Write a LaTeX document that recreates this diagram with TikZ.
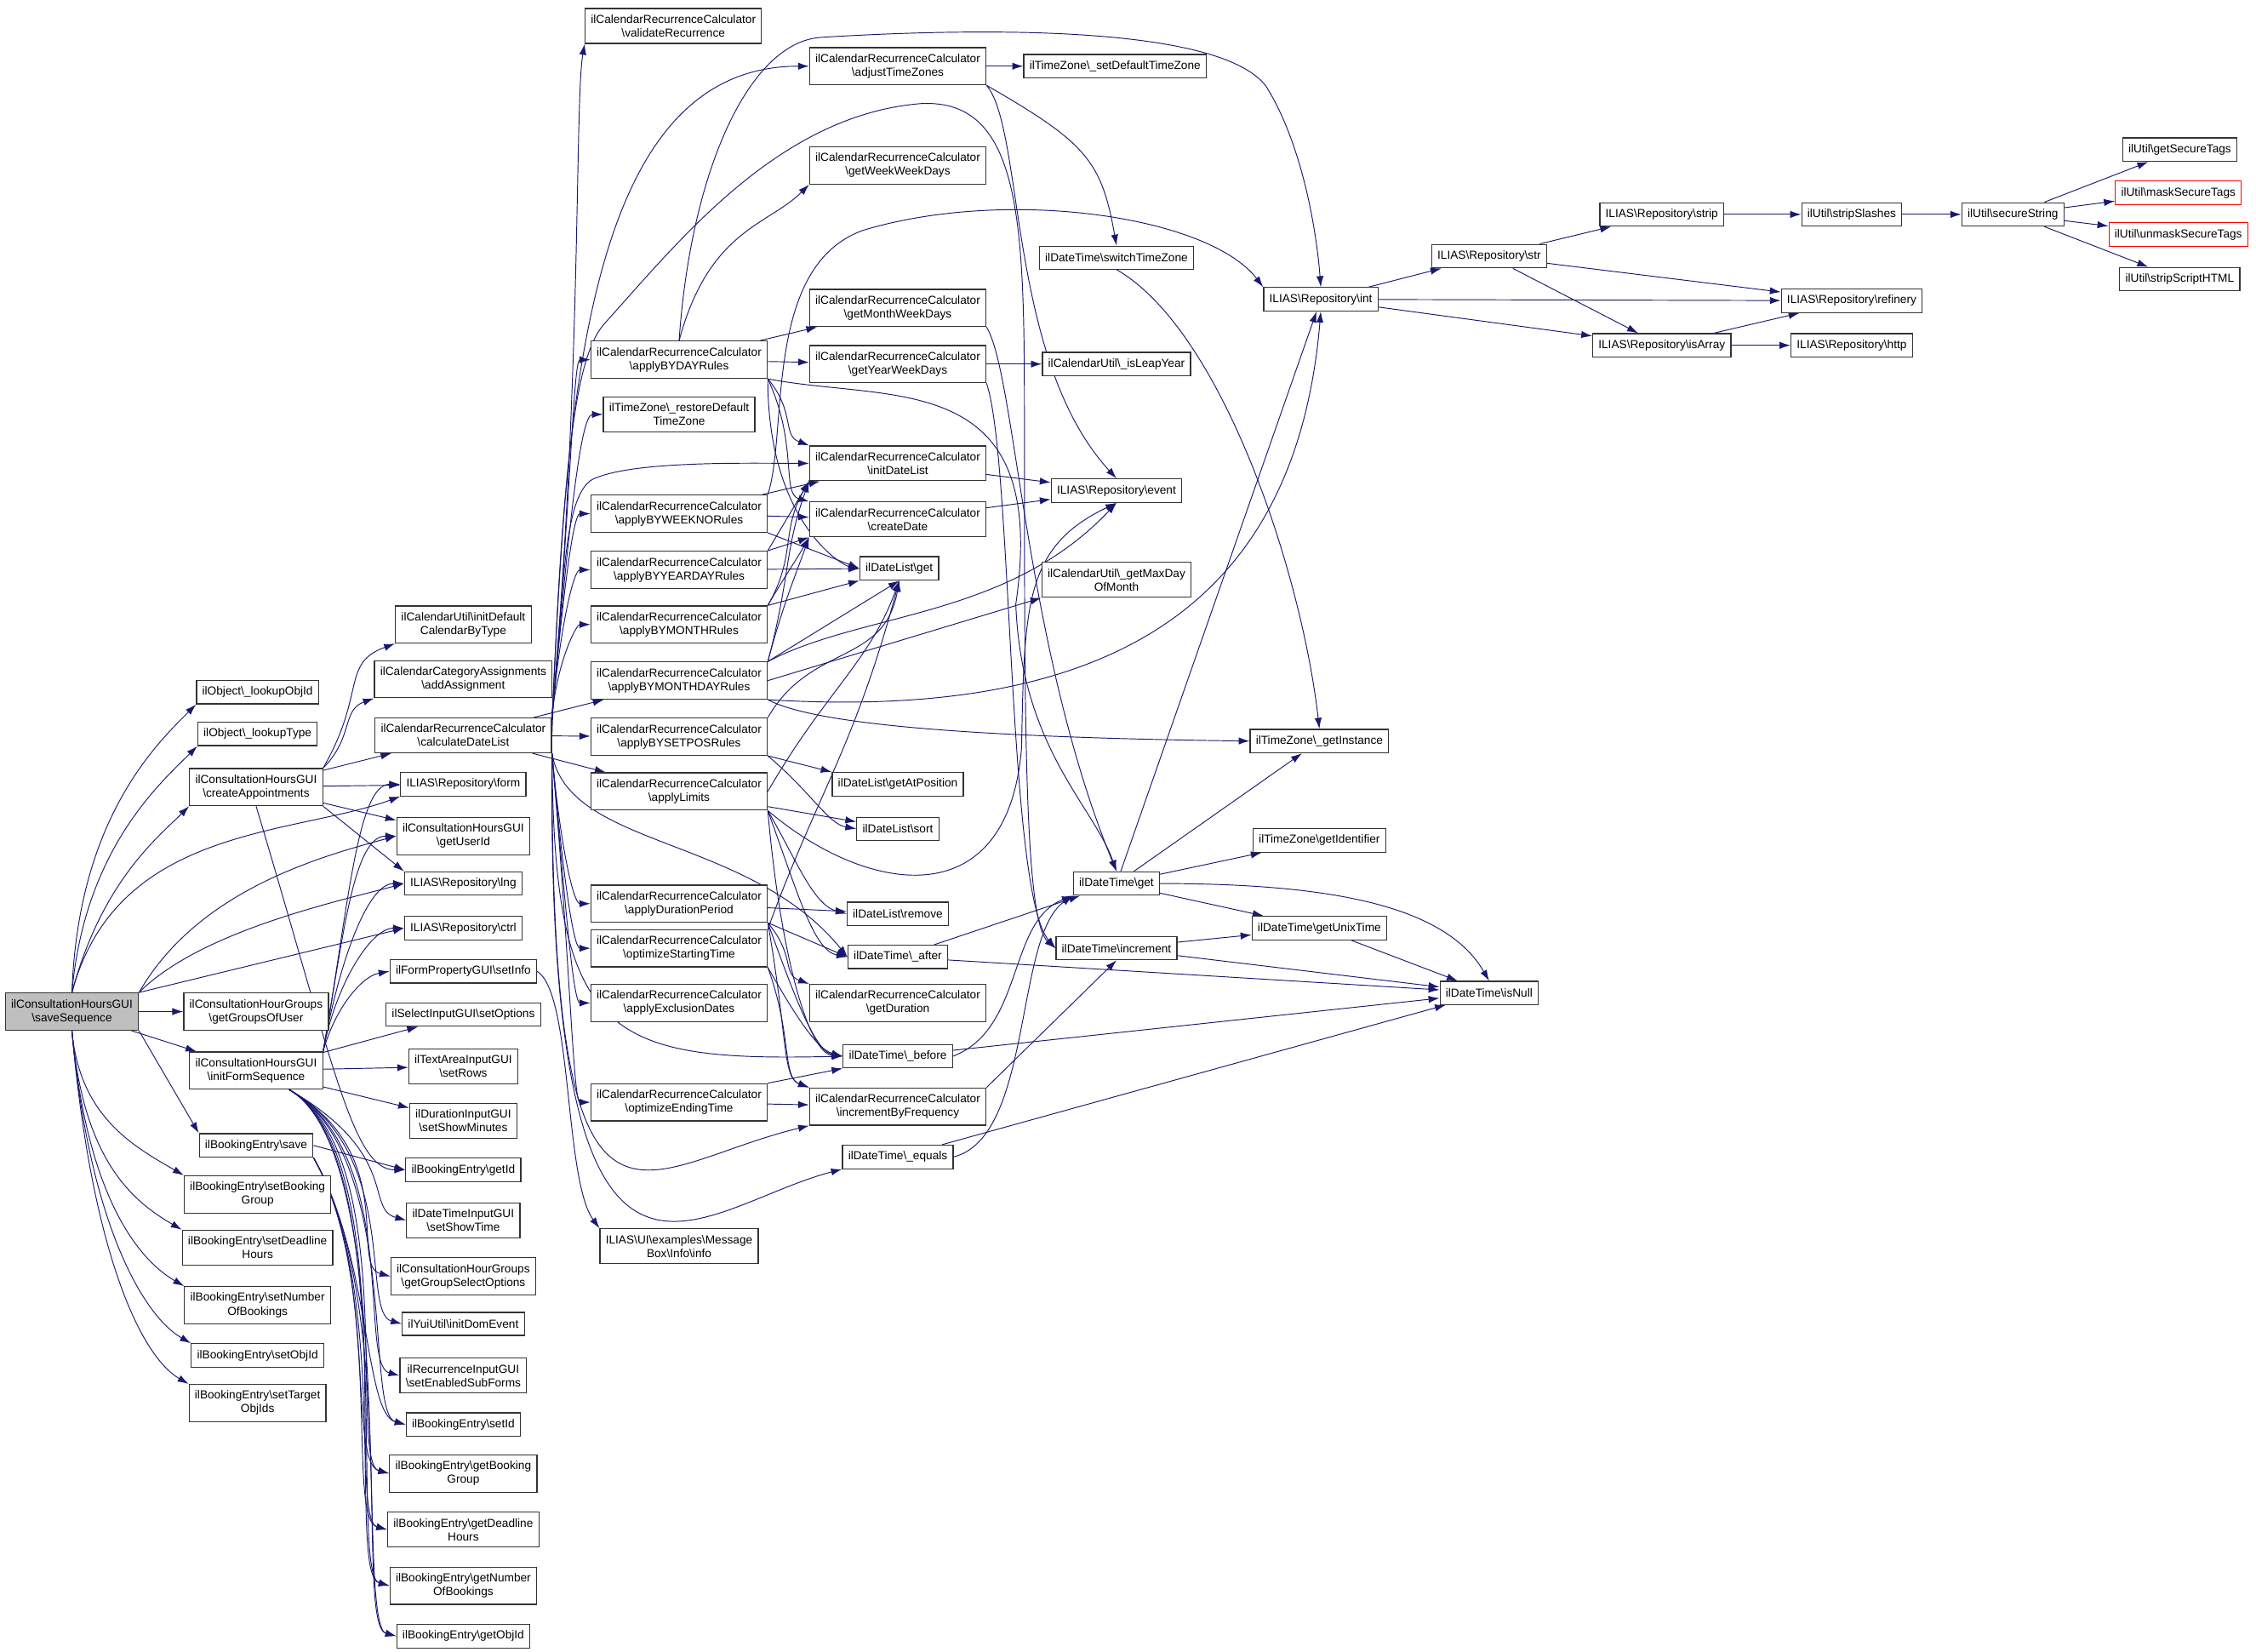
\documentclass[tikz,border=0pt]{standalone}
\usepackage{fontspec}
\setmainfont{Liberation Sans}
\usepackage{tikz}
\usetikzlibrary{positioning}
\usetikzlibrary{calc}
\usetikzlibrary{arrows.meta}
\newcommand{\bs}{\textbackslash}
\pgfdeclarelayer{edges}
\pgfsetlayers{edges,main}

\begin{document}
\begin{tikzpicture}[x=0.5mm,y=0.5mm,
  fn/.style={draw=sqsqsq, line width=1pt, fill=white, align=center, inner xsep=2mm, inner ysep=2.2mm, minimum height=8mm, font=\fontsize{11.5}{13.5}\selectfont},
  root/.style={fn, fill=bfbfbf},
  ext/.style={fn, draw=ffqqqq},
  call/.style={draw=qqqqtt, line width=0.8pt, -{Latex[length=3.8mm,width=2.5mm]}}]
\definecolor{qqqqtt}{rgb}{0.1,0.1,0.44}
\definecolor{sqsqsq}{rgb}{0.2,0.2,0.2}
\definecolor{bfbfbf}{rgb}{0.75,0.75,0.75}
\definecolor{ffqqqq}{rgb}{1,0,0}

\useasboundingbox (0,0) rectangle (1568,-1148);

\node[root] (saveSeq) at (50,-703) {ilConsultationHoursGUI\\\bs saveSequence};

\node[fn] (lookupObjId) at (179,-481) {ilObject\bs\_lookupObjId};
\node[fn] (lookupType) at (179,-510) {ilObject\bs\_lookupType};
\node[fn] (createAppt) at (178,-547) {ilConsultationHoursGUI\\\bs createAppointments};
\node[fn] (groupsOfUser) at (178,-703) {ilConsultationHourGroups\\\bs getGroupsOfUser};
\node[fn] (initForm) at (178,-744) {ilConsultationHoursGUI\\\bs initFormSequence};
\node[fn] (beSave) at (178,-796) {ilBookingEntry\bs save};
\node[fn] (setBookingGroup) at (179,-830) {ilBookingEntry\bs setBooking\\Group};
\node[fn] (setDeadline) at (179,-867) {ilBookingEntry\bs setDeadline\\Hours};
\node[fn] (setNumber) at (179,-907) {ilBookingEntry\bs setNumber\\OfBookings};
\node[fn] (setObjId) at (179,-942) {ilBookingEntry\bs setObjId};
\node[fn] (setTarget) at (179,-975) {ilBookingEntry\bs setTarget\\ObjIds};

\node[fn] (initDefCal) at (322,-434) {ilCalendarUtil\bs initDefault\\CalendarByType};
\node[fn] (addAssign) at (322,-472) {ilCalendarCategoryAssignments\\\bs addAssignment};
\node[fn] (calcDateList) at (322,-511) {ilCalendarRecurrenceCalculator\\\bs calculateDateList};
\node[fn] (repForm) at (322,-545) {ILIAS\bs Repository\bs form};
\node[fn] (getUserId) at (322,-581) {ilConsultationHoursGUI\\\bs getUserId};
\node[fn] (repLng) at (322,-614) {ILIAS\bs Repository\bs lng};
\node[fn] (repCtrl) at (322,-645) {ILIAS\bs Repository\bs ctrl};
\node[fn] (setInfo) at (322,-675) {ilFormPropertyGUI\bs setInfo};
\node[fn] (setOptions) at (322,-705) {ilSelectInputGUI\bs setOptions};
\node[fn] (setRows) at (322,-741) {ilTextAreaInputGUI\\\bs setRows};
\node[fn] (setShowMin) at (322,-779) {ilDurationInputGUI\\\bs setShowMinutes};
\node[fn] (getId) at (322,-813) {ilBookingEntry\bs getId};
\node[fn] (setShowTime) at (322,-848) {ilDateTimeInputGUI\\\bs setShowTime};
\node[fn] (groupSelOpt) at (322,-887) {ilConsultationHourGroups\\\bs getGroupSelectOptions};
\node[fn] (initDomEvent) at (322,-920) {ilYuiUtil\bs initDomEvent};
\node[fn] (setEnabledSub) at (322,-956) {ilRecurrenceInputGUI\\\bs setEnabledSubForms};
\node[fn] (setId) at (322,-990) {ilBookingEntry\bs setId};
\node[fn] (getBookingGroup) at (322,-1024) {ilBookingEntry\bs getBooking\\Group};
\node[fn] (getDeadline) at (322,-1063) {ilBookingEntry\bs getDeadline\\Hours};
\node[fn] (getNumber) at (322,-1102) {ilBookingEntry\bs getNumber\\OfBookings};
\node[fn] (getObjId) at (322,-1137) {ilBookingEntry\bs getObjId};

\node[fn] (validateRec) at (468,-18) {ilCalendarRecurrenceCalculator\\\bs validateRecurrence};
\node[fn] (byDay) at (472,-250) {ilCalendarRecurrenceCalculator\\\bs applyBYDAYRules};
\node[fn] (restoreTZ) at (472,-288) {ilTimeZone\bs\_restoreDefault\\TimeZone};
\node[fn] (byWeekNo) at (472,-357) {ilCalendarRecurrenceCalculator\\\bs applyBYWEEKNORules};
\node[fn] (byYearDay) at (472,-396) {ilCalendarRecurrenceCalculator\\\bs applyBYYEARDAYRules};
\node[fn] (byMonth) at (472,-434) {ilCalendarRecurrenceCalculator\\\bs applyBYMONTHRules};
\node[fn] (byMonthDay) at (472,-473) {ilCalendarRecurrenceCalculator\\\bs applyBYMONTHDAYRules};
\node[fn] (bySetPos) at (472,-512) {ilCalendarRecurrenceCalculator\\\bs applyBYSETPOSRules};
\node[fn] (applyLimits) at (472,-550) {ilCalendarRecurrenceCalculator\\\bs applyLimits};
\node[fn] (durationPeriod) at (472,-628) {ilCalendarRecurrenceCalculator\\\bs applyDurationPeriod};
\node[fn] (optStart) at (472,-659) {ilCalendarRecurrenceCalculator\\\bs optimizeStartingTime};
\node[fn] (exclusionDates) at (472,-697) {ilCalendarRecurrenceCalculator\\\bs applyExclusionDates};
\node[fn] (optEnd) at (472,-766) {ilCalendarRecurrenceCalculator\\\bs optimizeEndingTime};
\node[fn] (msgInfo) at (472,-866) {ILIAS\bs UI\bs examples\bs Message\\Box\bs Info\bs info};

\node[fn] (adjustTZ) at (624,-46) {ilCalendarRecurrenceCalculator\\\bs adjustTimeZones};
\node[fn] (weekWeekDays) at (624,-115) {ilCalendarRecurrenceCalculator\\\bs getWeekWeekDays};
\node[fn] (monthWeekDays) at (624,-214) {ilCalendarRecurrenceCalculator\\\bs getMonthWeekDays};
\node[fn] (yearWeekDays) at (624,-253) {ilCalendarRecurrenceCalculator\\\bs getYearWeekDays};
\node[fn] (initDateList) at (624,-322) {ilCalendarRecurrenceCalculator\\\bs initDateList};
\node[fn] (createDate) at (624,-361) {ilCalendarRecurrenceCalculator\\\bs createDate};
\node[fn] (dlGet) at (625,-395) {ilDateList\bs get};
\node[fn] (dlGetAtPos) at (624,-545) {ilDateList\bs getAtPosition};
\node[fn] (dlSort) at (624,-576) {ilDateList\bs sort};
\node[fn] (dlRemove) at (624,-635) {ilDateList\bs remove};
\node[fn] (dtAfter) at (624,-665) {ilDateTime\bs\_after};
\node[fn] (getDuration) at (624,-697) {ilCalendarRecurrenceCalculator\\\bs getDuration};
\node[fn] (dtBefore) at (624,-734) {ilDateTime\bs\_before};
\node[fn] (incByFreq) at (624,-769) {ilCalendarRecurrenceCalculator\\\bs incrementByFrequency};
\node[fn] (dtEquals) at (624,-804) {ilDateTime\bs\_equals};

\node[fn] (setDefTZ) at (775,-46) {ilTimeZone\bs\_setDefaultTimeZone};
\node[fn] (switchTZ) at (776,-179) {ilDateTime\bs switchTimeZone};
\node[fn] (isLeapYear) at (776,-253) {ilCalendarUtil\bs\_isLeapYear};
\node[fn] (repEvent) at (776,-341) {ILIAS\bs Repository\bs event};
\node[fn] (maxDay) at (776,-403) {ilCalendarUtil\bs\_getMaxDay\\OfMonth};
\node[fn] (dtGet) at (776,-614) {ilDateTime\bs get};
\node[fn] (dtIncrement) at (776,-659) {ilDateTime\bs increment};

\node[fn] (repInt) at (918,-208) {ILIAS\bs Repository\bs int};
\node[fn] (tzGetInstance) at (917,-515) {ilTimeZone\bs\_getInstance};
\node[fn] (tzGetIdentifier) at (917,-584) {ilTimeZone\bs getIdentifier};
\node[fn] (getUnixTime) at (917,-645) {ilDateTime\bs getUnixTime};
\node[fn] (repStr) at (1035,-178) {ILIAS\bs Repository\bs str};
\node[fn] (isNull) at (1035,-690) {ilDateTime\bs isNull};
\node[fn] (repStrip) at (1155,-149) {ILIAS\bs Repository\bs strip};
\node[fn] (repIsArray) at (1155,-240) {ILIAS\bs Repository\bs isArray};
\node[fn] (stripSlashes) at (1287,-149) {ilUtil\bs stripSlashes};
\node[fn] (repRefinery) at (1287,-209) {ILIAS\bs Repository\bs refinery};
\node[fn] (repHttp) at (1287,-240) {ILIAS\bs Repository\bs http};
\node[fn] (secureString) at (1399,-149) {ilUtil\bs secureString};
\node[fn] (getSecureTags) at (1515,-104) {ilUtil\bs getSecureTags};
\node[ext] (maskSecureTags) at (1514,-134) {ilUtil\bs maskSecureTags};
\node[ext] (unmaskSecureTags) at (1514,-163) {ilUtil\bs unmaskSecureTags};
\node[fn] (stripScriptHTML) at (1515,-194) {ilUtil\bs stripScriptHTML};

\begin{pgfonlayer}{edges}
\draw[call] (saveSeq.north) to[out=88,in=225,out distance=60mm,in distance=20mm] (lookupObjId.south west);
\draw[call] (saveSeq.north) to[out=85,in=225,out distance=50mm,in distance=18mm] (lookupType.south west);
\draw[call] (saveSeq.north) to[out=75,in=225,out distance=40mm,in distance=15mm] (createAppt.south west);
\draw[call] (saveSeq.north) to[out=75,in=200,out distance=60mm,in distance=40mm] (repForm.south west);
\draw[call] (saveSeq.north east) to[out=60,in=195,out distance=40mm,in distance=30mm] (getUserId.west);
\draw[call] (saveSeq.north east) to[out=45,in=195,out distance=30mm,in distance=25mm] (repLng.west);
\draw[call] (saveSeq.north east) -- (repCtrl.west);
\draw[call] (saveSeq) -- (groupsOfUser);
\draw[call] (saveSeq) -- (initForm);
\draw[call] (saveSeq.south east) -- (beSave.north west);
\draw[call] (saveSeq.south) to[out=-85,in=150,out distance=30mm,in distance=20mm] (setBookingGroup.north west);
\draw[call] (saveSeq.south) to[out=-85,in=150,out distance=45mm,in distance=20mm] (setDeadline.north west);
\draw[call] (saveSeq.south) to[out=-85,in=150,out distance=55mm,in distance=20mm] (setNumber.north west);
\draw[call] (saveSeq.south) to[out=-85,in=150,out distance=65mm,in distance=20mm] (setObjId.north west);
\draw[call] (saveSeq.south) to[out=-85,in=150,out distance=75mm,in distance=20mm] (setTarget.north west);

\draw[call] (createAppt.north east) to[out=60,in=200,out distance=30mm,in distance=20mm] (initDefCal.south west);
\draw[call] (createAppt.north east) to[out=45,in=200,out distance=15mm,in distance=12mm] (addAssign.south west);
\draw[call] (createAppt) -- (calcDateList);
\draw[call] (createAppt) -- (repForm);
\draw[call] (createAppt) -- (getUserId);
\draw[call] (createAppt.south east) -- (repLng.north west);
\draw[call] (createAppt.south) .. controls (232,-740) and (245,-813) .. (getId.west);

\draw[call] (initForm.north east) to[out=80,in=180,out distance=50mm,in distance=15mm] (repForm.west);
\draw[call] (initForm.north east) to[out=80,in=180,out distance=40mm,in distance=15mm] (getUserId.west);
\draw[call] (initForm.north east) to[out=80,in=180,out distance=30mm,in distance=13mm] (repLng.west);
\draw[call] (initForm.north east) to[out=80,in=180,out distance=22mm,in distance=12mm] (repCtrl.west);
\draw[call] (initForm.north east) to[out=75,in=190,out distance=15mm,in distance=10mm] (setInfo.west);
\draw[call] (initForm) -- (setOptions);
\draw[call] (initForm) -- (setRows);
\draw[call] (initForm) -- (setShowMin);
\draw[call] (initForm.-30) to[out=-30,in=165,out distance=45mm,in distance=15mm] (setShowTime.west);
\draw[call] (initForm.-30) to[out=-30,in=165,out distance=45mm,in distance=15mm] (groupSelOpt.west);
\draw[call] (initForm.-30) to[out=-30,in=165,out distance=45mm,in distance=15mm] (initDomEvent.west);
\draw[call] (initForm.-30) to[out=-30,in=165,out distance=45mm,in distance=15mm] (setEnabledSub.west);
\draw[call] (initForm.-30) to[out=-30,in=165,out distance=45mm,in distance=15mm] (setId.west);
\draw[call] (initForm.-30) to[out=-30,in=165,out distance=45mm,in distance=15mm] (getBookingGroup.west);
\draw[call] (initForm.-30) to[out=-30,in=165,out distance=45mm,in distance=15mm] (getDeadline.west);
\draw[call] (initForm.-30) to[out=-30,in=165,out distance=45mm,in distance=15mm] (getNumber.west);
\draw[call] (initForm.-30) to[out=-30,in=165,out distance=45mm,in distance=15mm] (getObjId.west);

\draw[call] (beSave.east) -- (getId.west);
\draw[call] (beSave.south east) to[out=-60,in=165,out distance=40mm,in distance=15mm] (setId.west);
\draw[call] (beSave.south east) to[out=-60,in=165,out distance=45mm,in distance=15mm] (getBookingGroup.west);
\draw[call] (beSave.south east) to[out=-60,in=165,out distance=50mm,in distance=15mm] (getDeadline.west);
\draw[call] (beSave.south east) to[out=-60,in=165,out distance=55mm,in distance=15mm] (getNumber.west);
\draw[call] (beSave.south east) to[out=-60,in=165,out distance=60mm,in distance=15mm] (getObjId.west);

\draw[call] (setInfo.east) .. controls (398,-690) and (392,-820) .. (msgInfo.north west);

\draw[call] (calcDateList.north east) to[out=85,in=-100,out distance=120mm,in distance=20mm] (validateRec.south west);
\draw[call] (calcDateList.east) to[out=88,in=180,out distance=125mm,in distance=75mm] (adjustTZ.west);
\draw[call] (calcDateList.north east) to[out=85,in=180,out distance=75mm,in distance=6mm] (byDay.west);
\draw[call] (calcDateList.north east) to[out=85,in=180,out distance=63mm,in distance=8mm] (restoreTZ.west);
\draw[call] (calcDateList.north east) .. controls (392,-420) and (390,-345) .. (412,-333) .. controls (440,-320) and (520,-322) .. (initDateList.west);
\draw[call] (calcDateList.north east) to[out=85,in=180,out distance=42mm,in distance=6mm] (byWeekNo.west);
\draw[call] (calcDateList.north east) to[out=85,in=180,out distance=30mm,in distance=6mm] (byYearDay.west);
\draw[call] (calcDateList.north east) to[out=85,in=180,out distance=19mm,in distance=5mm] (byMonth.west);
\draw[call] (calcDateList) -- (byMonthDay);
\draw[call] (calcDateList) -- (bySetPos);
\draw[call] (calcDateList) -- (applyLimits);
\draw[call] (calcDateList.south east) to[out=-85,in=180,out distance=31mm,in distance=6mm] (durationPeriod.west);
\draw[call] (calcDateList.south east) to[out=-85,in=180,out distance=40mm,in distance=6mm] (optStart.west);
\draw[call] (calcDateList.south east) to[out=-85,in=180,out distance=52mm,in distance=6mm] (exclusionDates.west);
\draw[call] (calcDateList.south east) to[out=-85,in=180,out distance=72mm,in distance=6mm] (optEnd.west);
\draw[call] (calcDateList.south east) .. controls (395,-590) and (520,-580) .. (dtAfter.west);
\draw[call] (calcDateList.south east) .. controls (385,-720) and (420,-738) .. (dtBefore.west);
\draw[call] (calcDateList.south east) .. controls (383,-900) and (440,-812) .. (incByFreq.south west);
\draw[call] (calcDateList.south east) .. controls (380,-960) and (480,-840) .. (dtEquals.south west);
\draw[call] (calcDateList.north east) .. controls (392,-330) and (398,-250) .. (420,-225) .. controls (470,-170) and (540,-80) .. (640,-72) .. controls (712,-68) and (712,-160) .. (712,-300) .. controls (712,-500) and (712,-640) .. (dtIncrement.west);

\draw[call] (byDay.north) to[out=75,in=225,out distance=40mm,in distance=20mm] (weekWeekDays.south west);
\draw[call] (byDay) -- (monthWeekDays);
\draw[call] (byDay) -- (yearWeekDays);
\draw[call] (byDay.south east) to[out=-50,in=160,out distance=15mm,in distance=10mm] (initDateList.north west);
\draw[call] (byDay.south east) to[out=-65,in=165,out distance=25mm,in distance=10mm] (createDate.north west);
\draw[call] (byDay.south east) to[out=-90,in=170,out distance=50mm,in distance=6mm] (dlGet.west);
\draw[call] (byDay.north) .. controls (480,-120) and (520,-30) .. (570,-26) .. controls (700,-18) and (850,-20) .. (880,-60) .. controls (905,-100) and (915,-160) .. (repInt.north);
\draw[call] (byDay.south east) .. controls (620,-280) and (730,-255) .. (706,-420) .. controls (710,-520) and (760,-560) .. (dtGet.north);

\draw[call] (byWeekNo) -- (initDateList);
\draw[call] (byWeekNo) -- (createDate);
\draw[call] (byWeekNo.south east) -- (dlGet.west);
\draw[call] (byWeekNo.north east) .. controls (548,-300) and (530,-185) .. (600,-160) .. controls (700,-130) and (840,-150) .. (repInt.north west);

\draw[call] (byYearDay.north east) -- (initDateList.south west);
\draw[call] (byYearDay.north east) -- (createDate.south west);
\draw[call] (byYearDay) -- (dlGet);

\draw[call] (byMonth.north east) to[out=60,in=240,out distance=20mm,in distance=20mm] (initDateList.south west);
\draw[call] (byMonth.north east) to[out=60,in=240,out distance=10mm,in distance=10mm] (createDate.south west);
\draw[call] (byMonth.north east) -- (dlGet.south west);

\draw[call] (byMonthDay.north east) to[out=75,in=250,out distance=30mm,in distance=25mm] (initDateList.south west);
\draw[call] (byMonthDay.north east) to[out=75,in=250,out distance=20mm,in distance=15mm] (createDate.south west);
\draw[call] (byMonthDay.north east) -- (dlGet.south);
\draw[call] (byMonthDay.north east) .. controls (600,-425) and (700,-430) .. (repEvent.south);
\draw[call] (byMonthDay.east) -- (maxDay.south west);
\draw[call] (byMonthDay.south east) .. controls (760,-500) and (900,-430) .. (repInt.south);
\draw[call] (byMonthDay.south east) .. controls (560,-500) and (640,-512) .. (tzGetInstance.west);

\draw[call] (bySetPos.north east) to[out=60,in=-100,out distance=30mm,in distance=30mm] (dlGet.south);
\draw[call] (bySetPos.south east) -- (dlGetAtPos.north west);
\draw[call] (bySetPos.south east) to[out=-40,in=170,out distance=20mm,in distance=10mm] (dlSort.west);

\draw[call] (applyLimits.east) to[out=60,in=-110,out distance=40mm,in distance=30mm] (dlGet.south);
\draw[call] (applyLimits) -- (dlSort);
\draw[call] (applyLimits.south east) to[out=-60,in=165,out distance=20mm,in distance=12mm] (dlRemove.west);
\draw[call] (applyLimits.south east) to[out=-70,in=170,out distance=30mm,in distance=12mm] (dtAfter.west);
\draw[call] (applyLimits.south east) to[out=-85,in=175,out distance=50mm,in distance=12mm] (dtBefore.west);
\draw[call] (applyLimits.south east) .. controls (600,-620) and (700,-640) .. (710,-520) .. controls (712,-420) and (712,-380) .. (repEvent.south);

\draw[call] (durationPeriod) -- (dlRemove);
\draw[call] (durationPeriod.south east) -- (dtAfter.west);
\draw[call] (durationPeriod.south east) to[out=-50,in=160,out distance=15mm,in distance=10mm] (getDuration.north west);
\draw[call] (durationPeriod.south east) to[out=-70,in=170,out distance=25mm,in distance=10mm] (dtBefore.west);
\draw[call] (durationPeriod.south east) to[out=-80,in=160,out distance=40mm,in distance=10mm] (incByFreq.north west);

\draw[call] (optStart.north east) to[out=70,in=-105,out distance=50mm,in distance=60mm] (dlGet.south);
\draw[call] (optStart.south east) to[out=-60,in=165,out distance=15mm,in distance=10mm] (dtBefore.west);
\draw[call] (optStart.south east) to[out=-70,in=160,out distance=25mm,in distance=10mm] (incByFreq.north west);

\draw[call] (optEnd.north east) -- (dtBefore.south west);
\draw[call] (optEnd) -- (incByFreq);

\draw[call] (adjustTZ) -- (setDefTZ);
\draw[call] (adjustTZ.south east) to[out=-30,in=100,out distance=40mm,in distance=30mm] (switchTZ.north);
\draw[call] (adjustTZ.south east) .. controls (712,-90) and (700,-250) .. (repEvent.north);
\draw[call] (monthWeekDays.south east) .. controls (706,-260) and (712,-450) .. (dtGet.north);
\draw[call] (yearWeekDays) -- (isLeapYear);
\draw[call] (yearWeekDays.south east) .. controls (704,-320) and (700,-620) .. (dtIncrement.west);
\draw[call] (initDateList) -- (repEvent);
\draw[call] (createDate) -- (repEvent);
\draw[call] (switchTZ.south) .. controls (850,-230) and (905,-400) .. (tzGetInstance.north);

\draw[call] (dtGet) -- (repInt);
\draw[call] (dtGet) -- (tzGetInstance);
\draw[call] (dtGet) -- (tzGetIdentifier);
\draw[call] (dtGet) -- (getUnixTime);
\draw[call] (dtGet.east) to[out=0,in=120,out distance=60mm,in distance=30mm] (isNull.north);
\draw[call] (dtIncrement) -- (getUnixTime);
\draw[call] (dtIncrement) -- (isNull);
\draw[call] (getUnixTime) -- (isNull);
\draw[call] (dtAfter) -- (dtGet);
\draw[call] (dtAfter) -- (isNull);
\draw[call] (dtBefore.east) .. controls (712,-715) and (700,-640) .. (dtGet.south west);
\draw[call] (dtBefore) -- (isNull);
\draw[call] (dtEquals.east) .. controls (718,-790) and (705,-650) .. (dtGet.south west);
\draw[call] (dtEquals) -- (isNull);
\draw[call] (incByFreq.north east) -- (dtIncrement.south);

\draw[call] (repInt) -- (repStr);
\draw[call] (repInt) -- (repRefinery);
\draw[call] (repInt) -- (repIsArray);
\draw[call] (repStr) -- (repStrip);
\draw[call] (repStr) -- (repRefinery);
\draw[call] (repStr) -- (repIsArray);
\draw[call] (repStrip) -- (stripSlashes);
\draw[call] (stripSlashes) -- (secureString);
\draw[call] (secureString) -- (getSecureTags);
\draw[call] (secureString) -- (maskSecureTags);
\draw[call] (secureString) -- (unmaskSecureTags);
\draw[call] (secureString) -- (stripScriptHTML);
\draw[call] (repIsArray) -- (repRefinery);
\draw[call] (repIsArray) -- (repHttp);
\end{pgfonlayer}
\end{tikzpicture}
\end{document}
